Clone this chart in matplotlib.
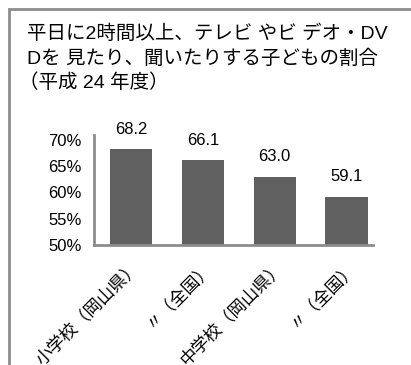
import matplotlib
matplotlib.use("Agg")
import matplotlib.pyplot as plt
from matplotlib.patches import Rectangle

plt.rcParams['font.family'] = ['Liberation Sans', 'Noto Sans CJK JP']

# データ
categories = ['小学校（岡山県）', '〃（全国）', '中学校（岡山県）', '〃（全国）']
values = [68.2, 66.1, 63.0, 59.1]
yticks = [50, 55, 60, 65, 70]
title_lines = ['平日に2時間以上、テレビ やビ デオ・DV',
               'Dを 見たり、聞いたりする子どもの割合',
               '（平成 24 年度）']

fig = plt.figure(figsize=(4.11, 3.65), dpi=100)
W, H = 411, 365

# 外枠
fig.patches.append(Rectangle((9 / W, -0.1), 1.2, 1 - 9 / H + 0.1,
                             transform=fig.transFigure, fill=False,
                             edgecolor='#8c8c8c', linewidth=2))

# タイトル
title_x = [27, 27, 19]
for i, line in enumerate(title_lines):
    fig.text(title_x[i] / W, 1 - (39 + i * 24.5) / H, line, fontsize=14,
             color='black', ha='left', va='baseline')

ax = fig.add_axes([94 / W, 1 - 245 / H, (373 - 94) / W, (245 - 135) / H])
x = list(range(len(values)))
ax.bar(x, values, width=0.59, color='#606060')
ax.set_ylim(50, 70.9)
ax.set_xlim(-0.52, 3.37)
ax.set_yticks(yticks)
ax.set_yticklabels([f'{v}%' for v in yticks], fontsize=12)
ax.tick_params(axis='y', length=0, pad=9)
ax.set_xticks(x)
ax.set_xticklabels([])
ax.tick_params(axis='x', length=0)

# 斜めの項目ラベル
for xi, cat in zip(x, categories):
    ax.annotate(cat, xy=(xi, 0), xycoords=('data', 'axes fraction'),
                xytext=(0, -9), textcoords='offset points',
                rotation=45, rotation_mode='anchor', ha='right', va='top',
                fontsize=12.5, annotation_clip=False)

for xi, v in zip(x, values):
    ax.text(xi, v + 2.4, f'{v:.1f}', ha='center', va='bottom', fontsize=12)

for side in ['top', 'right']:
    ax.spines[side].set_visible(False)
for side in ['left', 'bottom']:
    ax.spines[side].set_color('#8c8c8c')
    ax.spines[side].set_linewidth(2)

fig.savefig('out.png', dpi=100)
